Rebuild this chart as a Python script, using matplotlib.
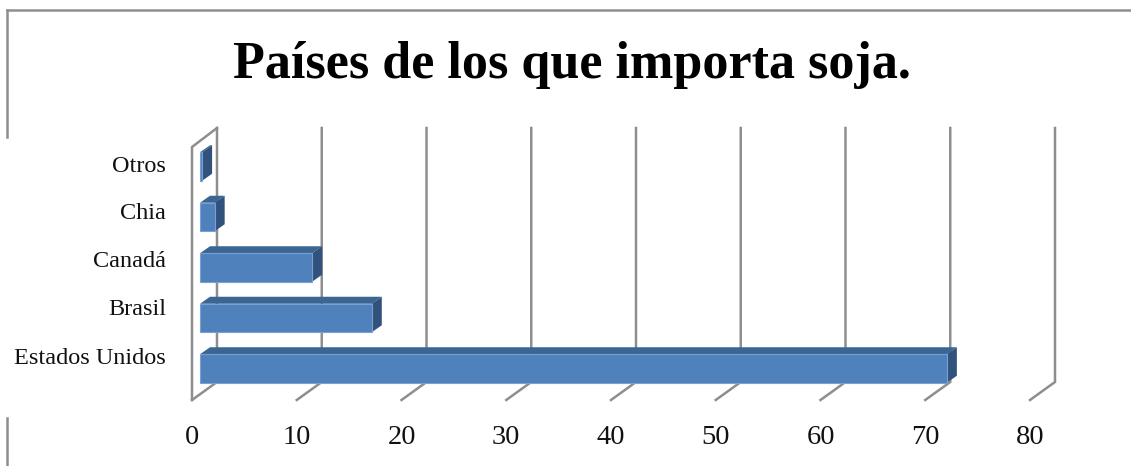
# -*- coding: utf-8 -*-
import matplotlib
matplotlib.use('Agg')
import matplotlib.pyplot as plt
from matplotlib.lines import Line2D

paises = ['Estados Unidos', 'Brasil', 'Canadá', 'Chia', 'Otros']
valores = [71.3, 16.4, 10.7, 1.4, 0.2]
ticks = [0, 10, 20, 30, 40, 50, 60, 70, 80]
titulo = 'Países de los que importa soja.'

W, H = 1131, 466
PX_X = 10.475   # pixels per unit
PX_Y = 50.5     # pixels per category
GRIS = '#8e8e8e'
LW = 1.8


def dx(p):
    return p / PX_X


def yv(p):
    # pixel row -> category position
    return (368.5 - p) / PX_Y


fig = plt.figure(figsize=(W / 100, H / 100), dpi=100)
ax = fig.add_axes([0, 0, 1, 1])
ax.set_xlim(dx(0 - 192), dx(W - 192))
ax.set_ylim(yv(H), yv(0))
ax.axis('off')

# frame of the picture, cut on the left
for xs, ys in [([7, W], [10, 10]), ([7, 7], [10, 137]), ([7, 7], [418, H])]:
    fig.add_artist(Line2D([x / W for x in xs], [1 - y / H for y in ys],
                          color=GRIS, lw=LW))

# back wall and floor
for t in ticks:
    ax.plot([t, t + dx(25), t + dx(25)], [yv(400), yv(382), yv(128)],
            color=GRIS, lw=LW, zorder=1, solid_joinstyle='miter')
ax.plot([0, 0, dx(25)], [yv(400), yv(147), yv(128)], color=GRIS, lw=LW, zorder=1,
        solid_joinstyle='miter')

# bars with fake depth
ini = dx(8)
prof_x = dx(10)
prof_y = 7 / PX_Y
alto = 28.5 / PX_Y
for i, v in enumerate(valores):
    abajo = i - alto / 2
    arriba = i + alto / 2
    fin = ini + v
    ax.fill([ini, ini + prof_x, fin + prof_x, fin],
            [arriba, arriba + prof_y, arriba + prof_y, arriba],
            color='#3b6592', lw=0, zorder=2)
    ax.fill([fin, fin + prof_x, fin + prof_x, fin],
            [abajo, abajo + prof_y, arriba + prof_y, arriba],
            color='#30527c', lw=0, zorder=2)
    ax.barh(i, v, height=alto, left=ini, color='#4f81bd', edgecolor='#7ba0cf',
            linewidth=0.8, zorder=3)

fila_label = [358, 309, 261, 213, 166]
for nombre, fila in zip(paises, fila_label):
    ax.text(dx(166 - 192), yv(fila), nombre, ha='right', va='center',
            family='Liberation Serif', fontsize=17.5, color='#111111')

for t in ticks:
    ax.text(t, yv(438), str(t), ha='center', va='center',
            family='Liberation Serif', fontsize=20.5, color='#111111')

ax.text(dx(572 - 192), yv(65), titulo, ha='center', va='center',
        family='Liberation Serif', weight='bold', fontsize=37.5, color='black')

fig.savefig('out.png', dpi=100)
